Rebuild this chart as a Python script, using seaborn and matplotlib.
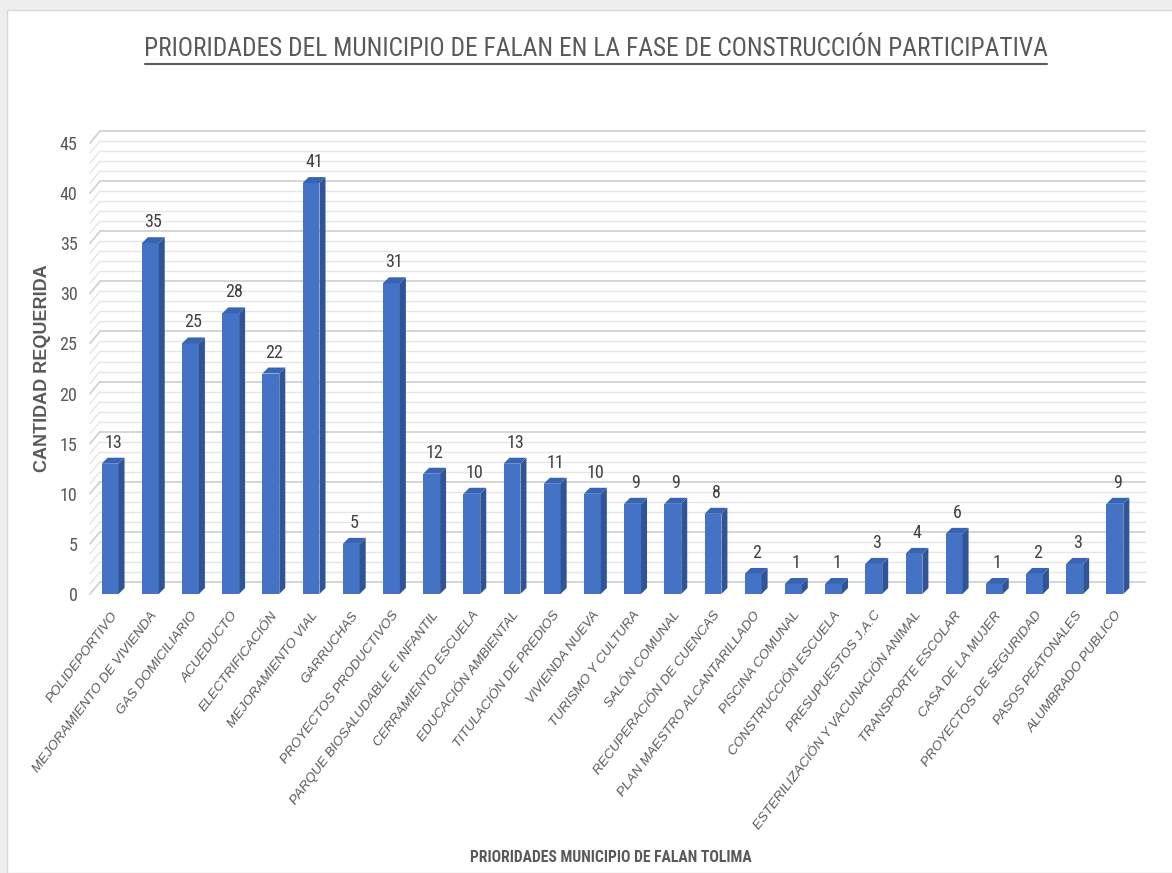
import matplotlib
matplotlib.use("Agg")
import matplotlib.pyplot as plt
import seaborn as sns
import pandas as pd
from matplotlib import font_manager
from matplotlib.patches import Polygon, Rectangle

# data
categorias = ["POLIDEPORTIVO", "MEJORAMIENTO DE VIVIENDA", "GAS DOMICILIARIO", "ACUEDUCTO",
              "ELECTRIFICACIÓN", "MEJORAMIENTO VIAL", "GARRUCHAS", "PROYECTOS PRODUCTIVOS",
              "PARQUE BIOSALUDABLE E INFANTIL", "CERRAMIENTO ESCUELA", "EDUCACIÓN AMBIENTAL",
              "TITULACIÓN DE PREDIOS", "VIVIENDA NUEVA", "TURISMO Y CULTURA", "SALÓN COMUNAL",
              "RECUPERACIÓN DE CUENCAS", "PLAN MAESTRO ALCANTARILLADO", "PISCINA COMUNAL",
              "CONSTRUCCIÓN ESCUELA", "PRESUPUESTOS J.A.C", "ESTERILIZACIÓN Y VACUNACIÓN ANIMAL",
              "TRANSPORTE ESCOLAR", "CASA DE LA MUJER", "PROYECTOS DE SEGURIDAD",
              "PASOS PEATONALES", "ALUMBRADO PUBLICO"]
cantidad = [13, 35, 25, 28, 22, 41, 5, 31, 12, 10, 13, 11, 10, 9, 9, 8, 2, 1, 1, 3, 4, 6, 1, 2, 3, 9]
yticks = [0, 5, 10, 15, 20, 25, 30, 35, 40, 45]

df = pd.DataFrame({"Prioridad": categorias, "Cantidad": cantidad})

sns.set_style("white")
plt.rcParams['font.family'] = ['Liberation Sans', 'DejaVu Sans']

# a narrow face looks closer to the original Calibri text
fuentes = {f.name for f in font_manager.fontManager.ttflist}
narrow = ["Liberation Sans", "DejaVu Sans"]
for cand in ["Roboto Condensed", "Liberation Sans Narrow", "Open Sans Condensed"]:
    if cand in fuentes:
        narrow = [cand, "DejaVu Sans"]
        break

W, H = 1172, 873
fig = plt.figure(figsize=(W / 100, H / 100), dpi=100, facecolor="#eeeeee")
fig.patches.append(Rectangle((7 / W, 0), 1, 1 - 10 / H, transform=fig.transFigure,
                             facecolor="white", edgecolor="#d9d9d9", lw=1, zorder=-1))

left, right, bottom, top = 90, 1135, 594, 143
ax = fig.add_axes([left / W, 1 - bottom / H, (right - left) / W, (bottom - top) / H])
ax.set_facecolor("none")

sns.barplot(data=df, x="Prioridad", y="Cantidad", color="#4472C4", width=0.42,
            saturation=1, ax=ax, zorder=3, edgecolor="none")
ax.set_ylim(0, 45)
ax.set_xlim(-0.5, len(categorias) - 0.5)

# pixel -> data conversions
px_x = (len(categorias)) / (right - left)
px_y = 45 / (bottom - top)

# back wall + side wall grid
wall_dx, wall_dy = 10 * px_x, 12 * px_y
x0, x1 = ax.get_xlim()
for v in range(0, 46):
    major = v % 5 == 0
    col = "#d2d2d2" if major else "#e6e6e6"
    lw = 1.3 if major else 1.0
    ax.plot([x0 + wall_dx, x1 + wall_dx], [v + wall_dy, v + wall_dy], color=col, lw=lw,
            zorder=1, clip_on=False)
    ax.plot([x0, x0 + wall_dx], [v, v + wall_dy], color=col, lw=lw, zorder=1, clip_on=False)

# 3d faces on the bars
d_x, d_y = 6 * px_x, 6 * px_y
for p, val in zip(ax.patches, cantidad):
    bx, bw, bh = p.get_x(), p.get_width(), p.get_height()
    side = Polygon([(bx + bw, 0), (bx + bw + d_x, d_y), (bx + bw + d_x, bh + d_y), (bx + bw, bh)],
                   closed=True, facecolor="#2F5597", edgecolor="none", zorder=3, clip_on=False)
    topf = Polygon([(bx, bh), (bx + d_x, bh + d_y), (bx + bw + d_x, bh + d_y), (bx + bw, bh)],
                   closed=True, facecolor="#3864B4", edgecolor="none", zorder=3, clip_on=False)
    ax.add_patch(side)
    ax.add_patch(topf)
    ax.text(bx + bw / 2 + d_x / 2, bh + d_y + 6 * px_y, str(val), ha="center", va="bottom",
            fontsize=13, color="#404040", zorder=4, family=narrow)

ax.set_yticks(yticks)
ax.set_yticklabels([str(t) for t in yticks], fontsize=13, color="#595959", family=narrow)
ax.tick_params(axis="y", length=0, pad=9)
ax.tick_params(axis="x", length=0, pad=11)
ax.set_xticks(range(len(categorias)))
ax.set_xticklabels(categorias, rotation=53, ha="right", rotation_mode="anchor",
                   fontsize=9.7, color="#595959", style="italic",
                   family=["Liberation Sans", "DejaVu Sans"])
for s in ax.spines.values():
    s.set_visible(False)

ax.set_xlabel("")
ax.set_ylabel("CANTIDAD REQUERIDA", fontsize=13, fontweight="bold", color="#595959", labelpad=6)

renderer = fig.canvas.get_renderer()


def fit_width(txt, target_px):
    w = txt.get_window_extent(renderer).width
    txt.set_fontsize(txt.get_fontsize() * target_px / w)


xl = fig.text(611 / W, 1 - 857 / H, "PRIORIDADES MUNICIPIO DE FALAN TOLIMA", ha="center",
              va="center", fontsize=12, fontweight="bold", color="#595959", family=narrow)
fit_width(xl, 282)

t = fig.text(596 / W, 1 - 49 / H, "PRIORIDADES DEL MUNICIPIO DE FALAN EN LA FASE DE CONSTRUCCIÓN PARTICIPATIVA",
             ha="center", va="center", fontsize=20, color="#595959", family=narrow)
fit_width(t, 902)
fig.add_artist(plt.Line2D([145 / W, 1047 / W], [1 - 64 / H, 1 - 64 / H], color="#595959", lw=1.5))

fig.savefig("out.png", dpi=100)
